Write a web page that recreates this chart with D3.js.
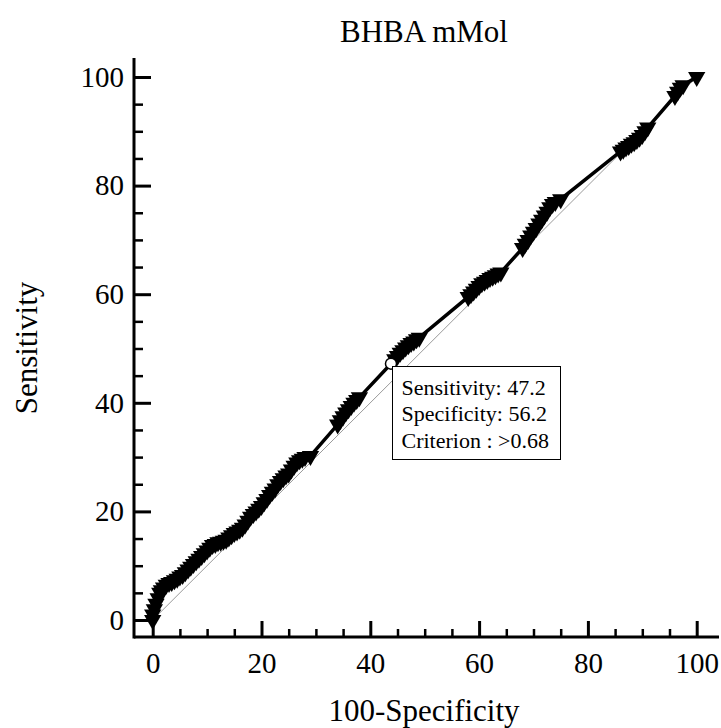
<!DOCTYPE html>
<html>
<head>
<meta charset="utf-8">
<script src="https://cdn.jsdelivr.net/npm/d3@7"></script>
<style>
  body { margin: 0; background: #fff; }
  svg text { font-family: "Liberation Serif", "Times New Roman", serif; fill: #000; }
</style>
</head>
<body>
<div id="roc-chart"></div>
<script>
// ROC points: 100-Specificity (x) and Sensitivity (y)
const falsePos = [
  0, 0, 0.3, 0.6, 1, 1.3, 1.6, 2, 2.5, 3, 3.5, 4, 4.5, 5, 5.5, 6, 6.5, 7, 7.5, 8, 8.5, 9, 9.5, 10, 10.5, 11, 11.5, 12,
  12.5, 13, 13.5, 14, 14.5, 15, 15.5, 16, 16.5, 17, 17.5,
  18, 18.5, 19, 19.5, 20, 20.5, 21, 21.5, 22, 22.5, 23, 23.5, 24, 24.5,
  25, 25.5, 26, 26.5, 27, 27.5, 28, 29,
  34, 34.5, 35, 35.5, 36, 36.5, 37, 37.5, 38,
  43.8,
  44.5, 45, 45.5, 46, 46.5, 47, 47.5, 48, 48.5, 49,
  58, 58.5, 59, 59.5, 60, 60.5, 61, 61.5, 62, 62.5, 63, 63.5, 64,
  68, 68.5, 69, 69.5, 70, 70.5, 71, 71.5, 72, 72.5, 73, 73.5, 74, 75,
  86, 86.5, 87, 87.5, 88, 88.5, 89, 89.5, 90, 90.5, 91,
  96, 96.5, 97, 97.5,
  100,
];
const sensitivity = [
  0, 1, 2, 3, 4, 5, 5.5, 6, 6.5, 6.8, 7, 7.3, 7.6, 8, 8.3, 8.8, 9.3, 9.8, 10.3, 10.8, 11.3, 11.8, 12.3, 12.8, 13.3, 13.8, 14, 14.3,
  14.4, 14.6, 14.8, 15.2, 15.6, 16, 16.3, 16.6, 17, 17.6, 18.3,
  19, 19.5, 20, 20.5, 21, 21.7, 22.3, 23, 23.6, 24.2, 25, 25.6, 26.1, 26.6,
  27, 27.7, 28.4, 29, 29.4, 29.7, 30, 30.2,
  36, 36.8, 37.5, 38.2, 38.8, 39.4, 40, 40.5, 41,
  47.2,
  48, 48.6, 49.2, 49.7, 50.2, 50.6, 51, 51.3, 51.7, 52,
  59.5, 60, 60.5, 61, 61.5, 62, 62.3, 62.6, 63, 63.2, 63.5, 63.8, 64,
  68.5, 69.3, 70, 70.8, 71.5, 72.2, 73, 73.7, 74.5, 75.2, 76, 76.6, 77, 77.5,
  86.3, 86.6, 87, 87.3, 87.7, 88, 88.4, 88.8, 89.3, 90, 90.7,
  96.5, 97.3, 98, 98.5,
  100,
];
const majorTicks = [0, 20, 40, 60, 80, 100];
const minorTicks = [5, 10, 15, 25, 30, 35, 45, 50, 55, 65, 70, 75, 85, 90, 95];
const criterion = { x: 43.8, sens: 47.2, spec: 56.2, label: ">0.68" };

const width = 721;
const height = 728;

const svg = d3
  .select("#roc-chart")
  .append("svg")
  .attr("width", width)
  .attr("height", height);

const x = d3.scaleLinear().domain([0, 100]).range([152.7, 696.7]);
const y = d3.scaleLinear().domain([0, 100]).range([620, 77]);

const axisY = 637; // x axis line
const axisX = 134; // y axis line

svg.append("line")
  .attr("x1", axisX).attr("x2", 719)
  .attr("y1", axisY).attr("y2", axisY)
  .attr("stroke", "#000").attr("stroke-width", 3);
svg.append("line")
  .attr("x1", axisX).attr("x2", axisX)
  .attr("y1", 58).attr("y2", axisY + 1.5)
  .attr("stroke", "#000").attr("stroke-width", 3);

const xMajor = svg.append("g")
  .attr("transform", `translate(0, ${axisY})`)
  .call(d3.axisBottom(x).tickValues(majorTicks).tickSize(-16).tickPadding(15));
const xMinor = svg.append("g")
  .attr("transform", `translate(0, ${axisY})`)
  .call(d3.axisBottom(x).tickValues(minorTicks).tickSize(-8).tickFormat(""));

const yMajor = svg.append("g")
  .attr("transform", `translate(${axisX}, 0)`)
  .call(d3.axisLeft(y).tickValues(majorTicks).tickSize(-17).tickPadding(10));
const yMinor = svg.append("g")
  .attr("transform", `translate(${axisX}, 0)`)
  .call(d3.axisLeft(y).tickValues(minorTicks).tickSize(-9).tickFormat(""));

[xMajor, xMinor, yMajor, yMinor].forEach((g) => g.select(".domain").remove());
[xMajor, yMajor].forEach((g) => {
  g.selectAll(".tick line").attr("stroke-width", 3);
  g.selectAll(".tick text").attr("font-size", 29).attr("font-family", null);
});
[xMinor, yMinor].forEach((g) => g.selectAll(".tick line").attr("stroke-width", 2.5));

// titles
svg.append("text")
  .text("BHBA mMol")
  .attr("x", 424).attr("y", 42)
  .attr("text-anchor", "middle")
  .attr("font-size", 31);

svg.append("text")
  .text("100-Specificity")
  .attr("x", 424).attr("y", 721)
  .attr("text-anchor", "middle")
  .attr("font-size", 31);

svg.append("text")
  .text("Sensitivity")
  .attr("transform", "translate(37, 348) rotate(-90)")
  .attr("text-anchor", "middle")
  .attr("font-size", 31);

// diagonal reference
svg.append("line")
  .attr("x1", x(0)).attr("y1", y(0))
  .attr("x2", x(100)).attr("y2", y(100))
  .attr("stroke", "#999").attr("stroke-width", 1);

const pts = falsePos.map((v, i) => [v, sensitivity[i]]);

svg.append("path")
  .datum(pts)
  .attr("fill", "none")
  .attr("stroke", "#000")
  .attr("stroke-width", 3.5)
  .attr("d", d3.line().x((d) => x(d[0])).y((d) => y(d[1])));

svg.append("g")
  .selectAll("path")
  .data(pts.filter((d) => d[0] !== criterion.x))
  .join("path")
  .attr("d", d3.symbol(d3.symbolTriangle, 130))
  .attr("transform", (d) => `translate(${x(d[0])}, ${y(d[1])}) rotate(180)`)
  .attr("fill", "#000");

svg.append("circle")
  .attr("cx", x(criterion.x))
  .attr("cy", y(criterion.sens))
  .attr("r", 5.5)
  .attr("fill", "#fff")
  .attr("stroke", "#000")
  .attr("stroke-width", 1.5);

// annotation box
const box = svg.append("g").attr("transform", "translate(392.5, 366.5)");
box.append("rect")
  .attr("width", 168).attr("height", 93)
  .attr("fill", "#fff").attr("stroke", "#000").attr("stroke-width", 1);
const lines = [
  `Sensitivity: ${criterion.sens}`,
  `Specificity: ${criterion.spec}`,
  `Criterion : ${criterion.label}`,
];
box.selectAll("text.note")
  .data(lines)
  .join("text")
  .attr("class", "note")
  .text((d) => d)
  .attr("x", 9)
  .attr("y", (d, i) => 28 + i * 26.5)
  .attr("font-size", 22);
</script>
</body>
</html>
